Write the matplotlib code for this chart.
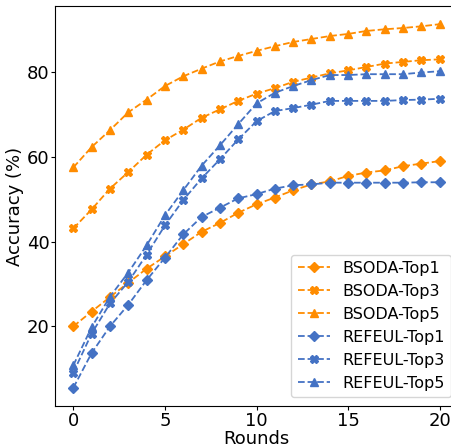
import numpy as np
import matplotlib
matplotlib.use("Agg")
import matplotlib.pyplot as plt

rounds = np.arange(21)

bsoda_top1 = [20.0, 23.5, 26.9, 30.3, 33.6, 36.5, 39.4, 42.3, 44.4, 46.8, 48.8,
              50.4, 52.1, 53.5, 54.2, 55.5, 56.3, 56.8, 57.8, 58.4, 59.0]
bsoda_top3 = [43.1, 47.6, 52.5, 56.4, 60.5, 63.9, 66.4, 69.2, 71.2, 73.2, 74.9,
              76.2, 77.7, 78.7, 79.7, 80.4, 81.2, 82.0, 82.4, 82.8, 83.0]
bsoda_top5 = [57.5, 62.3, 66.3, 70.5, 73.5, 76.7, 79.0, 80.8, 82.5, 83.8, 85.0,
              86.1, 87.1, 87.8, 88.5, 89.0, 89.7, 90.1, 90.4, 90.8, 91.3]
refeul_top1 = [5.5, 13.7, 20.0, 25.1, 30.9, 36.2, 41.7, 45.8, 48.0, 50.2, 51.2,
               52.5, 53.3, 53.5, 53.9, 53.9, 53.9, 53.9, 53.9, 54.0, 54.0]
refeul_top3 = [9.1, 18.3, 25.4, 30.5, 36.9, 43.8, 49.8, 54.9, 59.4, 64.1, 68.4,
               70.8, 71.5, 72.3, 73.2, 73.2, 73.2, 73.2, 73.4, 73.5, 73.7]
refeul_top5 = [10.8, 19.8, 27.0, 32.7, 39.1, 46.2, 52.1, 57.9, 62.7, 67.7, 72.6,
               75.1, 76.7, 78.1, 79.3, 79.3, 79.5, 79.5, 79.5, 79.9, 80.2]

orange = '#FF8C00'
blue = '#4472C4'

plt.rcParams['font.size'] = 13

fig = plt.figure(figsize=(4.51, 4.47), dpi=100)
ax = fig.add_axes([55 / 451, 41 / 447, 403 / 451, 400 / 447])

style = dict(ls='--', lw=1.3)
ax.plot(rounds, bsoda_top1, marker='D', color=orange, ms=5, label='BSODA-Top1', **style)
ax.plot(rounds, bsoda_top3, marker='X', color=orange, ms=6, label='BSODA-Top3', **style)
ax.plot(rounds, bsoda_top5, marker='^', color=orange, ms=6, label='BSODA-Top5', **style)
ax.plot(rounds, refeul_top1, marker='D', color=blue, ms=5, label='REFEUL-Top1', **style)
ax.plot(rounds, refeul_top3, marker='X', color=blue, ms=6, label='REFEUL-Top3', **style)
ax.plot(rounds, refeul_top5, marker='^', color=blue, ms=6, label='REFEUL-Top5', **style)

ax.set_xticks([0, 5, 10, 15, 20])
ax.set_yticks([20, 40, 60, 80])
ax.tick_params(length=3, pad=1)
ax.set_xlabel('Rounds', labelpad=0.5)
ax.set_ylabel('Accuracy (%)', labelpad=2)
ax.legend(loc='lower right', bbox_to_anchor=(0.995, 0.01), fontsize=11.5,
          handlelength=2.0, borderaxespad=0.3)

fig.savefig('out.png', dpi=100)
